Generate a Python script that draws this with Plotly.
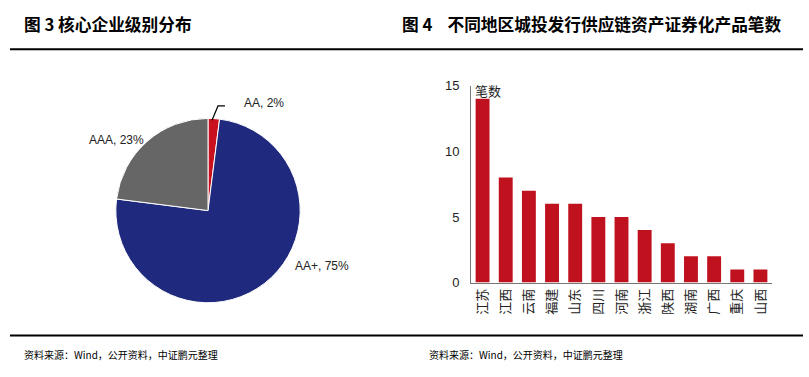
import plotly.graph_objects as go

# Pie data (figure 3)
pie_labels = ["AA", "AA+", "AAA"]
pie_values = [2, 75, 23]
pie_colors = ["#C8101E", "#1F2A7E", "#666666"]

# Bar data (figure 4)
regions = ["江苏", "江西", "云南", "福建", "山东", "四川", "河南", "浙江", "陕西", "湖南", "广西", "重庆", "山西"]
counts = [14, 8, 7, 6, 6, 5, 5, 4, 3, 2, 2, 1, 1]
y_ticks = [0, 5, 10, 15]

W, H = 809, 377
def px(x): return x / W
def py(y): return 1 - y / H

fig = go.Figure()

fig.add_trace(go.Pie(
    labels=pie_labels, values=pie_values, sort=False, direction="clockwise", rotation=0,
    marker=dict(colors=pie_colors, line=dict(color="white", width=1)),
    textinfo="none", hoverinfo="label+percent", showlegend=False,
    domain=dict(x=[px(112), px(304)], y=[py(308), py(116)]),
))

fig.add_trace(go.Bar(
    x=regions, y=counts, marker=dict(color="#C0111F", line=dict(width=0)),
    width=0.6, showlegend=False, xaxis="x", yaxis="y",
))

fig.update_layout(
    width=W, height=H, margin=dict(l=0, r=0, t=0, b=0),
    paper_bgcolor="white", plot_bgcolor="white",
    font=dict(family="Liberation Sans, Arial, sans-serif", color="#222"),
    xaxis=dict(domain=[px(471), px(772)], showgrid=False, showline=True, linecolor="#777", linewidth=1,
               tickangle=-90, ticks="", tickfont=dict(family="Noto Sans CJK SC", size=13, color="#222"),
               range=[-0.5, len(regions) - 0.5], fixedrange=True),
    yaxis=dict(domain=[py(287), py(82)], range=[0, 15], tickvals=y_ticks, showgrid=False, zeroline=False,
               showline=True, linecolor="#777", linewidth=1, ticks="", ticklabelstandoff=8,
               tickfont=dict(size=13, color="#222"), fixedrange=True),
)

anns = []
# titles
anns.append(dict(x=px(22), y=py(18), xref="paper", yref="paper", xanchor="left", yanchor="middle",
                 text="<b>图 3 核心企业级别分布</b>", showarrow=False,
                 font=dict(family="Noto Sans CJK SC", size=16.7, color="#000")))
anns.append(dict(x=px(400), y=py(18), xref="paper", yref="paper", xanchor="left", yanchor="middle",
                 text="<b>图 4    不同地区城投发行供应链资产证券化产品笔数</b>", showarrow=False,
                 font=dict(family="Noto Sans CJK SC", size=16.7, color="#000")))
# sources
for x0 in (22, 427):
    anns.append(dict(x=px(x0), y=py(362), xref="paper", yref="paper", xanchor="left", yanchor="middle",
                     text="资料来源：Wind，公开资料，中证鹏元整理", showarrow=False,
                     font=dict(family="Noto Sans CJK SC", size=10, color="#000")))
# pie labels
pie_pos = {"AA": (242, 100, "left"), "AA+": (293, 270, "left"), "AAA": (146, 138, "right")}
for lab, val in zip(pie_labels, pie_values):
    x0, y0, anc = pie_pos[lab]
    anns.append(dict(x=px(x0), y=py(y0), xref="paper", yref="paper", xanchor=anc, yanchor="middle",
                     text=f"{lab}, {val}%", showarrow=False,
                     font=dict(family="Liberation Sans", size=12, color="#222")))
# y axis title
anns.append(dict(x=px(473), y=py(87), xref="paper", yref="paper", xanchor="left", yanchor="middle",
                 text="笔数", showarrow=False, font=dict(family="Noto Sans CJK SC", size=13, color="#222")))
fig.update_layout(annotations=anns)

shapes = [
    dict(type="line", xref="paper", yref="paper", x0=px(10), x1=px(803), y0=py(44), y1=py(44),
         line=dict(color="#000", width=2)),
    dict(type="line", xref="paper", yref="paper", x0=px(10), x1=px(803), y0=py(342), y1=py(342),
         line=dict(color="#000", width=2)),
    # leader line for AA
    dict(type="path", xref="paper", yref="paper",
         path=f"M {px(212)},{py(118)} L {px(218)},{py(103)} L {px(225)},{py(103)}",
         line=dict(color="#000", width=1.2)),
]
fig.update_layout(shapes=shapes)

fig.write_html("out.html", config={"displayModeBar": False},
               post_script="document.body.style.margin='0';document.body.style.overflow='hidden';")
